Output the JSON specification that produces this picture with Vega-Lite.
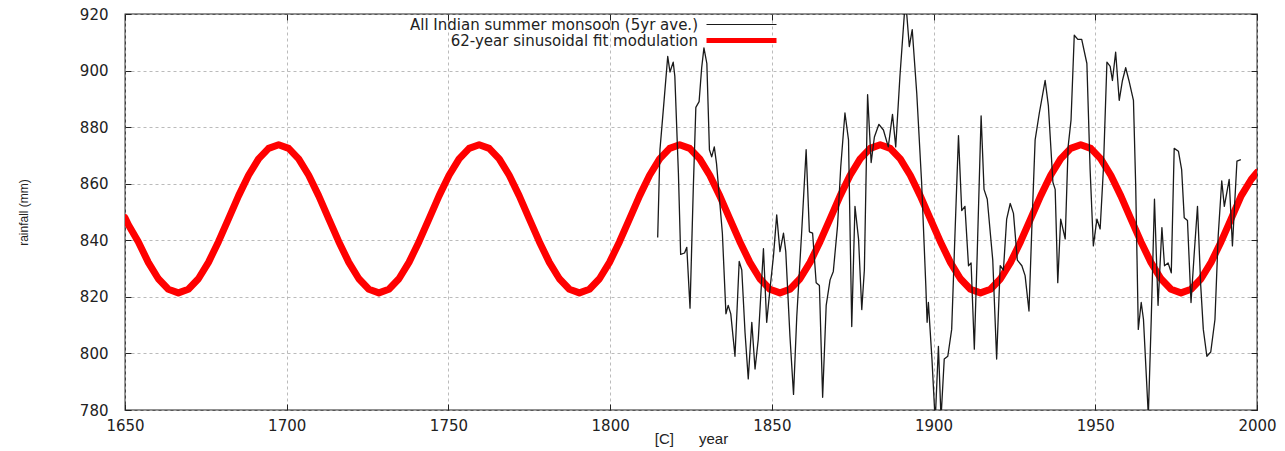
{
  "$schema": "https://vega.github.io/schema/vega-lite/v6.json",
  "width": 1132,
  "height": 396,
  "autosize": {"type": "none"},
  "padding": {"left": 125, "top": 14, "right": 28, "bottom": 41},
  "background": "white",
  "config": {
    "view": {"stroke": "#222", "strokeWidth": 1.3},
    "axis": {
      "labelFont": "DejaVu Sans",
      "labelFontSize": 15,
      "labelColor": "#222",
      "labelFlush": false,
      "titleFont": "Liberation Sans",
      "titleFontSize": 13,
      "titleFontWeight": "normal",
      "titleColor": "#222",
      "domain": false,
      "tickColor": "#222",
      "tickSize": -6,
      "tickWidth": 1,
      "gridColor": "#aaaaaa",
      "gridDash": [3, 3],
      "gridWidth": 0.8
    },
    "legend": {
      "orient": "none",
      "legendX": 609,
      "legendY": 3,
      "padding": 0,
      "labelFont": "DejaVu Sans",
      "labelFontSize": 15,
      "labelColor": "#222",
      "labelLimit": 600,
      "labelAlign": "right",
      "labelOffset": -51,
      "symbolType": "stroke",
      "symbolSize": 4900,
      "rowPadding": -7
    }
  },
  "datasets": {
    "fit": [
      {"year": 1650.0, "rain": 848.0},
      {"year": 1651.0, "rain": 845.6}, {"year": 1654.1, "rain": 839.5}, {"year": 1657.2, "rain": 832.2}, {"year": 1660.3, "rain": 826.4}, {"year": 1663.4, "rain": 822.7},
      {"year": 1666.5, "rain": 821.4}, {"year": 1669.6, "rain": 822.7}, {"year": 1672.7, "rain": 826.4}, {"year": 1675.8, "rain": 832.2}, {"year": 1678.9, "rain": 839.5},
      {"year": 1682.0, "rain": 847.6}, {"year": 1685.1, "rain": 855.7}, {"year": 1688.2, "rain": 863.0}, {"year": 1691.3, "rain": 868.8}, {"year": 1694.4, "rain": 872.5},
      {"year": 1697.5, "rain": 873.8}, {"year": 1700.6, "rain": 872.5}, {"year": 1703.7, "rain": 868.8}, {"year": 1706.8, "rain": 863.0}, {"year": 1709.9, "rain": 855.7},
      {"year": 1713.0, "rain": 847.6}, {"year": 1716.1, "rain": 839.5}, {"year": 1719.2, "rain": 832.2}, {"year": 1722.3, "rain": 826.4}, {"year": 1725.4, "rain": 822.7},
      {"year": 1728.5, "rain": 821.4}, {"year": 1731.6, "rain": 822.7}, {"year": 1734.7, "rain": 826.4}, {"year": 1737.8, "rain": 832.2}, {"year": 1740.9, "rain": 839.5},
      {"year": 1744.0, "rain": 847.6}, {"year": 1747.1, "rain": 855.7}, {"year": 1750.2, "rain": 863.0}, {"year": 1753.3, "rain": 868.8}, {"year": 1756.4, "rain": 872.5},
      {"year": 1759.5, "rain": 873.8}, {"year": 1762.6, "rain": 872.5}, {"year": 1765.7, "rain": 868.8}, {"year": 1768.8, "rain": 863.0}, {"year": 1771.9, "rain": 855.7},
      {"year": 1775.0, "rain": 847.6}, {"year": 1778.1, "rain": 839.5}, {"year": 1781.2, "rain": 832.2}, {"year": 1784.3, "rain": 826.4}, {"year": 1787.4, "rain": 822.7},
      {"year": 1790.5, "rain": 821.4}, {"year": 1793.6, "rain": 822.7}, {"year": 1796.7, "rain": 826.4}, {"year": 1799.8, "rain": 832.2}, {"year": 1802.9, "rain": 839.5},
      {"year": 1806.0, "rain": 847.6}, {"year": 1809.1, "rain": 855.7}, {"year": 1812.2, "rain": 863.0}, {"year": 1815.3, "rain": 868.8}, {"year": 1818.4, "rain": 872.5},
      {"year": 1821.5, "rain": 873.8}, {"year": 1824.6, "rain": 872.5}, {"year": 1827.7, "rain": 868.8}, {"year": 1830.8, "rain": 863.0}, {"year": 1833.9, "rain": 855.7},
      {"year": 1837.0, "rain": 847.6}, {"year": 1840.1, "rain": 839.5}, {"year": 1843.2, "rain": 832.2}, {"year": 1846.3, "rain": 826.4}, {"year": 1849.4, "rain": 822.7},
      {"year": 1852.5, "rain": 821.4}, {"year": 1855.6, "rain": 822.7}, {"year": 1858.7, "rain": 826.4}, {"year": 1861.8, "rain": 832.2}, {"year": 1864.9, "rain": 839.5},
      {"year": 1868.0, "rain": 847.6}, {"year": 1871.1, "rain": 855.7}, {"year": 1874.2, "rain": 863.0}, {"year": 1877.3, "rain": 868.8}, {"year": 1880.4, "rain": 872.5},
      {"year": 1883.5, "rain": 873.8}, {"year": 1886.6, "rain": 872.5}, {"year": 1889.7, "rain": 868.8}, {"year": 1892.8, "rain": 863.0}, {"year": 1895.9, "rain": 855.7},
      {"year": 1899.0, "rain": 847.6}, {"year": 1902.1, "rain": 839.5}, {"year": 1905.2, "rain": 832.2}, {"year": 1908.3, "rain": 826.4}, {"year": 1911.4, "rain": 822.7},
      {"year": 1914.5, "rain": 821.4}, {"year": 1917.6, "rain": 822.7}, {"year": 1920.7, "rain": 826.4}, {"year": 1923.8, "rain": 832.2}, {"year": 1926.9, "rain": 839.5},
      {"year": 1930.0, "rain": 847.6}, {"year": 1933.1, "rain": 855.7}, {"year": 1936.2, "rain": 863.0}, {"year": 1939.3, "rain": 868.8}, {"year": 1942.4, "rain": 872.5},
      {"year": 1945.5, "rain": 873.8}, {"year": 1948.6, "rain": 872.5}, {"year": 1951.7, "rain": 868.8}, {"year": 1954.8, "rain": 863.0}, {"year": 1957.9, "rain": 855.7},
      {"year": 1961.0, "rain": 847.6}, {"year": 1964.1, "rain": 839.5}, {"year": 1967.2, "rain": 832.2}, {"year": 1970.3, "rain": 826.4}, {"year": 1973.4, "rain": 822.7},
      {"year": 1976.5, "rain": 821.4}, {"year": 1979.6, "rain": 822.7}, {"year": 1982.7, "rain": 826.4}, {"year": 1985.8, "rain": 832.2}, {"year": 1988.9, "rain": 839.5},
      {"year": 1992.0, "rain": 847.6}, {"year": 1995.1, "rain": 855.7}, {"year": 1998.2, "rain": 861.5}, {"year": 2000.0, "rain": 864.0}
    ],
    "monsoon": [
      {"year": 1814.7, "rain": 841}, {"year": 1815.4, "rain": 872}, {"year": 1816.5, "rain": 887}, {"year": 1817.8, "rain": 905}, {"year": 1818.5, "rain": 899.5},
      {"year": 1819.5, "rain": 903}, {"year": 1820.0, "rain": 898}, {"year": 1821.1, "rain": 864}, {"year": 1821.8, "rain": 835}, {"year": 1823.0, "rain": 835.5},
      {"year": 1823.7, "rain": 837.5}, {"year": 1824.7, "rain": 816}, {"year": 1825.7, "rain": 858}, {"year": 1826.5, "rain": 887}, {"year": 1827.5, "rain": 889},
      {"year": 1828.3, "rain": 901}, {"year": 1829.0, "rain": 908}, {"year": 1829.9, "rain": 902.5}, {"year": 1830.7, "rain": 872}, {"year": 1831.4, "rain": 869.5},
      {"year": 1832.2, "rain": 873}, {"year": 1832.9, "rain": 867}, {"year": 1834.7, "rain": 842.5}, {"year": 1835.8, "rain": 814}, {"year": 1836.5, "rain": 817},
      {"year": 1837.3, "rain": 814}, {"year": 1838.6, "rain": 799}, {"year": 1839.9, "rain": 832.5}, {"year": 1840.7, "rain": 829.5}, {"year": 1841.7, "rain": 807.5},
      {"year": 1842.7, "rain": 791}, {"year": 1843.8, "rain": 811}, {"year": 1844.8, "rain": 794.5}, {"year": 1845.8, "rain": 805}, {"year": 1847.4, "rain": 837},
      {"year": 1848.4, "rain": 811}, {"year": 1849.4, "rain": 822.5}, {"year": 1850.5, "rain": 834.5}, {"year": 1851.5, "rain": 849}, {"year": 1852.5, "rain": 836},
      {"year": 1853.6, "rain": 842.5}, {"year": 1854.3, "rain": 836}, {"year": 1855.6, "rain": 806}, {"year": 1856.7, "rain": 785.5}, {"year": 1857.7, "rain": 813},
      {"year": 1859.2, "rain": 842.5}, {"year": 1860.6, "rain": 872}, {"year": 1861.6, "rain": 843}, {"year": 1862.6, "rain": 842.5}, {"year": 1863.7, "rain": 825},
      {"year": 1864.7, "rain": 824}, {"year": 1865.7, "rain": 784.5}, {"year": 1866.8, "rain": 817}, {"year": 1868.0, "rain": 826}, {"year": 1869.0, "rain": 829},
      {"year": 1870.3, "rain": 845}, {"year": 1871.3, "rain": 866}, {"year": 1872.6, "rain": 885}, {"year": 1873.7, "rain": 875.5}, {"year": 1874.7, "rain": 809.5},
      {"year": 1875.7, "rain": 852}, {"year": 1876.8, "rain": 840.5}, {"year": 1877.8, "rain": 815.5}, {"year": 1878.6, "rain": 829.5}, {"year": 1879.6, "rain": 891.5},
      {"year": 1880.7, "rain": 867.5}, {"year": 1881.7, "rain": 876.5}, {"year": 1883.1, "rain": 881}, {"year": 1884.5, "rain": 879}, {"year": 1886.0, "rain": 873},
      {"year": 1887.3, "rain": 884.5}, {"year": 1888.3, "rain": 873}, {"year": 1889.6, "rain": 898}, {"year": 1891.0, "rain": 920.5}, {"year": 1891.7, "rain": 920},
      {"year": 1892.5, "rain": 908.5}, {"year": 1893.4, "rain": 914.5}, {"year": 1894.8, "rain": 892}, {"year": 1896.3, "rain": 860.5}, {"year": 1897.6, "rain": 824},
      {"year": 1898.0, "rain": 811}, {"year": 1898.4, "rain": 818}, {"year": 1899.5, "rain": 798}, {"year": 1900.5, "rain": 776}, {"year": 1901.5, "rain": 802.5},
      {"year": 1902.3, "rain": 777}, {"year": 1903.3, "rain": 798}, {"year": 1904.4, "rain": 799}, {"year": 1905.6, "rain": 808.5}, {"year": 1906.6, "rain": 841.5},
      {"year": 1907.7, "rain": 877}, {"year": 1908.7, "rain": 850.5}, {"year": 1909.7, "rain": 852}, {"year": 1910.8, "rain": 831}, {"year": 1911.6, "rain": 832},
      {"year": 1912.6, "rain": 801.5}, {"year": 1913.5, "rain": 835.5}, {"year": 1914.7, "rain": 884}, {"year": 1915.6, "rain": 858}, {"year": 1916.6, "rain": 854.5},
      {"year": 1918.3, "rain": 833}, {"year": 1919.5, "rain": 798}, {"year": 1920.6, "rain": 831}, {"year": 1921.6, "rain": 829.5}, {"year": 1922.6, "rain": 847.5},
      {"year": 1923.7, "rain": 853}, {"year": 1924.7, "rain": 849.5}, {"year": 1925.9, "rain": 833}, {"year": 1927.3, "rain": 831}, {"year": 1928.3, "rain": 827.5},
      {"year": 1929.5, "rain": 815}, {"year": 1930.4, "rain": 845}, {"year": 1931.4, "rain": 875.5}, {"year": 1932.7, "rain": 885}, {"year": 1934.5, "rain": 896.5},
      {"year": 1935.5, "rain": 887.5}, {"year": 1936.9, "rain": 860.5}, {"year": 1937.6, "rain": 858}, {"year": 1938.4, "rain": 825}, {"year": 1939.3, "rain": 847.5},
      {"year": 1940.7, "rain": 840.5}, {"year": 1941.6, "rain": 873}, {"year": 1942.5, "rain": 882.5}, {"year": 1943.5, "rain": 912.5}, {"year": 1944.6, "rain": 911},
      {"year": 1945.8, "rain": 911}, {"year": 1947.4, "rain": 902.5}, {"year": 1948.4, "rain": 865}, {"year": 1949.4, "rain": 838}, {"year": 1950.5, "rain": 847.5},
      {"year": 1951.5, "rain": 844}, {"year": 1952.5, "rain": 865}, {"year": 1953.6, "rain": 903}, {"year": 1954.6, "rain": 901.5}, {"year": 1955.3, "rain": 896.5},
      {"year": 1956.3, "rain": 906.5}, {"year": 1957.4, "rain": 889.5}, {"year": 1958.4, "rain": 896.5}, {"year": 1959.4, "rain": 901}, {"year": 1960.4, "rain": 896.5},
      {"year": 1961.8, "rain": 889.5}, {"year": 1962.5, "rain": 859}, {"year": 1963.3, "rain": 808.5}, {"year": 1964.2, "rain": 818}, {"year": 1964.9, "rain": 812},
      {"year": 1966.4, "rain": 778}, {"year": 1967.3, "rain": 812}, {"year": 1968.3, "rain": 854.5}, {"year": 1969.4, "rain": 817}, {"year": 1970.6, "rain": 844.5},
      {"year": 1971.4, "rain": 831}, {"year": 1972.5, "rain": 832}, {"year": 1973.5, "rain": 828.5}, {"year": 1974.4, "rain": 872.5}, {"year": 1975.7, "rain": 871.5},
      {"year": 1976.7, "rain": 865}, {"year": 1977.5, "rain": 848}, {"year": 1978.5, "rain": 847}, {"year": 1979.6, "rain": 818}, {"year": 1980.6, "rain": 835.5},
      {"year": 1981.6, "rain": 852}, {"year": 1982.6, "rain": 824}, {"year": 1983.4, "rain": 808.5}, {"year": 1984.5, "rain": 799}, {"year": 1985.7, "rain": 800.5},
      {"year": 1987.0, "rain": 812}, {"year": 1988.0, "rain": 841.5}, {"year": 1989.1, "rain": 861}, {"year": 1989.9, "rain": 852}, {"year": 1991.4, "rain": 861.5},
      {"year": 1992.4, "rain": 838}, {"year": 1993.8, "rain": 868}, {"year": 1995.0, "rain": 868.5}
    ]
  },
  "layer": [
    {
      "data": {"name": "fit"},
      "mark": {"type": "line", "strokeWidth": 7, "clip": true, "strokeJoin": "round", "strokeCap": "round"},
      "encoding": {
        "x": {
          "field": "year", "type": "quantitative",
          "scale": {"domain": [1650, 2000], "nice": false, "zero": false},
          "axis": {"orient": "bottom", "values": [1650, 1700, 1750, 1800, 1850, 1900, 1950, 2000], "format": "d", "grid": true, "title": "[C]\u00a0\u00a0\u00a0\u00a0\u00a0\u00a0year", "titleFontSize": 15, "labelPadding": 14, "titlePadding": -2}
        },
        "y": {
          "field": "rain", "type": "quantitative",
          "scale": {"domain": [780, 920], "nice": false, "zero": false},
          "axis": {"orient": "left", "values": [780, 800, 820, 840, 860, 880, 900, 920], "grid": true, "title": "rainfall (mm)", "titleFontSize": 12, "labelPadding": 23, "titlePadding": 49}
        },
        "color": {
          "datum": "62-year sinusoidal fit modulation",
          "type": "nominal",
          "scale": {"domain": ["All Indian summer monsoon (5yr ave.)", "62-year sinusoidal fit modulation"], "range": ["#1a1a1a", "#ff0000"]},
          "legend": {
            "title": null,
            "encode": {"symbols": {"update": {"strokeWidth": {"signal": "datum.value === '62-year sinusoidal fit modulation' ? 5 : 1"}}}}
          }
        }
      }
    },
    {
      "data": {"name": "monsoon"},
      "mark": {"type": "line", "strokeWidth": 1.3, "clip": true, "strokeJoin": "round"},
      "encoding": {
        "x": {
          "field": "year", "type": "quantitative",
          "scale": {"domain": [1650, 2000], "nice": false, "zero": false},
          "axis": {"orient": "top", "values": [1650, 1700, 1750, 1800, 1850, 1900, 1950, 2000], "labels": false, "grid": false, "title": null}
        },
        "y": {
          "field": "rain", "type": "quantitative",
          "scale": {"domain": [780, 920], "nice": false, "zero": false},
          "axis": {"orient": "right", "values": [780, 800, 820, 840, 860, 880, 900, 920], "labels": false, "grid": false, "title": null}
        },
        "color": {"datum": "All Indian summer monsoon (5yr ave.)", "type": "nominal"}
      }
    }
  ],
  "resolve": {"axis": {"x": "independent", "y": "independent"}}
}
